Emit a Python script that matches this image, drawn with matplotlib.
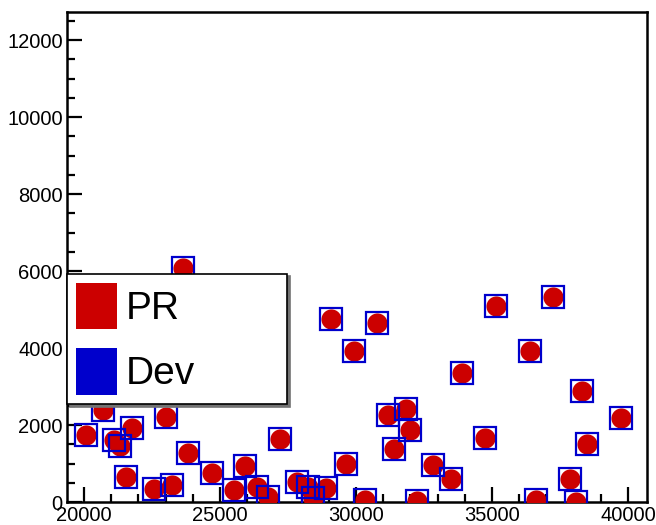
import matplotlib
matplotlib.use("Agg")
import matplotlib.pyplot as plt
from matplotlib.patches import Patch
from matplotlib.ticker import MultipleLocator

plt.rcParams['font.family'] = ['Liberation Sans', 'DejaVu Sans']

pr_x = [20074, 20699, 21103, 21324, 21765, 21544, 22574, 23015, 23235, 23640,
        23824, 24706, 25515, 25919, 26360, 26765, 27206, 27831, 28235, 28419,
        28897, 29081, 29640, 29926, 30331, 30772, 31176, 31397, 31838, 31985,
        32243, 32831, 33493, 33897, 34742, 35147, 36397, 36618, 37243, 37868,
        38088, 38309, 38493, 39740]
pr_y = [1740, 2390, 1610, 1455, 1922, 649, 338, 2208, 442, 6078,
        1273, 753, 312, 935, 390, 130, 1636, 520, 390, 104,
        364, 4753, 987, 3922, 52, 4649, 2260, 1377, 2416, 1870,
        26, 961, 597, 3350, 1662, 5091, 3922, 52, 5325, 597,
        0, 2883, 1506, 2182]
dev_x = list(pr_x)
dev_y = list(pr_y)

x_ticks = [20000, 25000, 30000, 35000, 40000]
y_ticks = [0, 2000, 4000, 6000, 8000, 10000, 12000]

RED = '#CC0000'
BLUE = '#0000CC'

fig = plt.figure(figsize=(6.56, 5.25), dpi=100)
ax = fig.add_axes([67/656, 1-502/525, 580/656, 490/525])

ax.plot(pr_x, pr_y, 'o', color=RED, markersize=14.5, markeredgewidth=0, zorder=3)
ax.plot(dev_x, dev_y, 's', markerfacecolor='none', markeredgecolor=BLUE,
        markersize=16.5, markeredgewidth=1.6, zorder=4)

ax.set_xlim(19375, 40700)
ax.set_ylim(0, 12730)
ax.set_xticks(x_ticks)
ax.set_yticks(y_ticks)
ax.xaxis.set_minor_locator(MultipleLocator(1000))
ax.yaxis.set_minor_locator(MultipleLocator(500))
ax.tick_params(axis='both', which='major', direction='in', length=10.5, width=1.6,
               labelsize=14.5, top=False, right=False, pad=3)
ax.tick_params(axis='both', which='minor', direction='in', length=6, width=1.6,
               top=False, right=False)
for s in ax.spines.values():
    s.set_linewidth(1.8)

handles = [Patch(facecolor=RED, edgecolor='none', label='PR'),
           Patch(facecolor=BLUE, edgecolor='none', label='Dev')]
leg = ax.legend(handles=handles, loc='lower left',
                bbox_to_anchor=(0, 0.2, 0.379, 0.261), mode='expand',
                borderaxespad=0, fontsize=28, handlelength=1.04,
                handleheight=1.45, handletextpad=0.22, labelspacing=0.5,
                borderpad=0.24, fancybox=False, framealpha=1,
                edgecolor='black', shadow={'color': '0.45', 'alpha': 1})
leg.get_frame().set_linewidth(1.2)
leg.set_zorder(10)

fig.savefig('out.png', dpi=100)
